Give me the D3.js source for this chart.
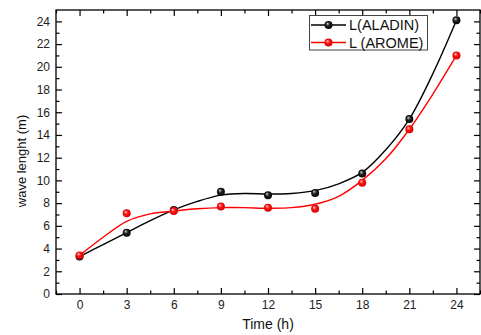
<!DOCTYPE html>
<html>
<head>
<meta charset="utf-8">
<script src="https://cdn.jsdelivr.net/npm/d3@7"></script>
<style>
  body { margin: 0; background: #fff; overflow: hidden; }
  svg { display: block; font-family: "Liberation Sans", Arial, sans-serif; }
</style>
</head>
<body>
<svg id="chart" width="481" height="335"></svg>
<script>
// measured points
const hours = [0, 3, 6, 9, 12, 15, 18, 21, 24];
const aladin = [3.3, 5.4, 7.4, 9.0, 8.7, 8.9, 10.6, 15.4, 24.1];
const arome = [3.4, 7.1, 7.3, 7.7, 7.6, 7.5, 9.8, 14.5, 21.0];

// fitted curves, every 1.5 h
const fitHours = [0, 1.5, 3, 4.5, 6, 7.5, 9, 10.5, 12, 13.5, 15, 16.5, 18, 19.5, 21, 22.5, 24];
const aladinFit = [3.3, 4.35, 5.4, 6.45, 7.4, 8.15, 8.7, 8.85, 8.8, 8.85, 9.1, 9.7, 10.7, 12.7, 15.4, 19.4, 24.1];
const aromeFit = [3.4, 5.0, 6.4, 7.05, 7.3, 7.5, 7.6, 7.6, 7.55, 7.6, 7.9, 8.6, 10.0, 11.9, 14.5, 17.6, 21.0];

const xTicks = [0, 3, 6, 9, 12, 15, 18, 21, 24];
const yTicks = [0, 2, 4, 6, 8, 10, 12, 14, 16, 18, 20, 22, 24];

const svg = d3.select('#chart');
const margin = { left: 56, top: 10, right: 1, bottom: 41 };
const innerWidth = 481 - margin.left - margin.right;
const innerHeight = 335 - margin.top - margin.bottom;

const xScale = d3.scaleLinear().domain([-1.5, 25.5]).range([0, innerWidth]);
const yScale = d3.scaleLinear().domain([0, 25]).range([innerHeight, 0]);

// marker gradients (shaded balls)
const defs = svg.append('defs');
function ball(id, hi, mid, lo) {
    const gr = defs.append('radialGradient').attr('id', id)
        .attr('cx', '50%').attr('cy', '50%').attr('r', '55%')
        .attr('fx', '35%').attr('fy', '30%');
    gr.append('stop').attr('offset', '0%').attr('stop-color', hi);
    gr.append('stop').attr('offset', '45%').attr('stop-color', mid);
    gr.append('stop').attr('offset', '100%').attr('stop-color', lo);
}
ball('ballBlack', '#d0d0d0', '#202020', '#000000');
ball('ballRed', '#ffd0d0', '#ff1010', '#d00000');

const g = svg.append('g').attr('transform', `translate(${margin.left}, ${margin.top})`);

const minorX = d3.range(-1.5, 25.6, 1.5).filter(v => v % 3 !== 0);
const minorY = d3.range(1, 25, 2);

// axes with inward ticks; unlabeled ones lose their text nodes
function styleAxis(sel, labeled) {
    sel.select('.domain').remove();
    sel.selectAll('.tick line').attr('stroke', '#000').attr('stroke-width', 1.2);
    if (labeled) {
        sel.selectAll('.tick text').attr('fill', '#222').attr('font-size', '12px');
    } else {
        sel.selectAll('.tick text').remove();
    }
}

g.append('g').attr('transform', `translate(0, ${innerHeight})`)
    .call(d3.axisBottom(xScale).tickValues(xTicks).tickSize(-6).tickPadding(6))
    .call(styleAxis, true);
g.append('g').attr('transform', `translate(0, ${innerHeight})`)
    .call(d3.axisBottom(xScale).tickValues(minorX).tickSize(-3.5))
    .call(styleAxis, false);
g.append('g')
    .call(d3.axisTop(xScale).tickValues(xTicks).tickSize(-6))
    .call(styleAxis, false);
g.append('g')
    .call(d3.axisTop(xScale).tickValues(minorX).tickSize(-3.5))
    .call(styleAxis, false);

g.append('g')
    .call(d3.axisLeft(yScale).tickValues(yTicks).tickSize(-6).tickPadding(6))
    .call(styleAxis, true);
g.append('g')
    .call(d3.axisLeft(yScale).tickValues(minorY).tickSize(-3.5))
    .call(styleAxis, false);
g.append('g').attr('transform', `translate(${innerWidth}, 0)`)
    .call(d3.axisRight(yScale).tickValues(yTicks).tickSize(-6))
    .call(styleAxis, false);
g.append('g').attr('transform', `translate(${innerWidth}, 0)`)
    .call(d3.axisRight(yScale).tickValues(minorY).tickSize(-3.5))
    .call(styleAxis, false);

// frame
g.append('rect')
    .attr('width', innerWidth).attr('height', innerHeight)
    .attr('fill', 'none').attr('stroke', '#000').attr('stroke-width', 1.3);

// fit curves
const line = d3.line().curve(d3.curveCatmullRom)
    .x(d => xScale(d[0])).y(d => yScale(d[1]));

const series = [
    { name: 'L(ALADIN)', pts: aladin, fit: aladinFit, color: '#000', ballId: 'ballBlack' },
    { name: 'L (AROME)', pts: arome, fit: aromeFit, color: '#ff0000', ballId: 'ballRed' }
];

series.forEach(s => {
    g.append('path')
        .attr('d', line(fitHours.map((h, i) => [h, s.fit[i]])))
        .attr('fill', 'none').attr('stroke', s.color).attr('stroke-width', 1.4);
});
series.forEach(s => {
    g.selectAll(null).data(s.pts).enter().append('circle')
        .attr('cx', (d, i) => xScale(hours[i]))
        .attr('cy', d => yScale(d))
        .attr('r', 4)
        .attr('fill', `url(#${s.ballId})`);
});

// legend
const lg = svg.append('g');
lg.append('rect').attr('x', 309.5).attr('y', 15.5).attr('width', 118).attr('height', 34.5)
    .attr('fill', '#fff').attr('stroke', '#444').attr('stroke-width', 1);
series.forEach((s, i) => {
    const y = 25 + i * 17.5;
    lg.append('line').attr('x1', 311).attr('x2', 346).attr('y1', y).attr('y2', y)
        .attr('stroke', s.color).attr('stroke-width', 1.4);
    lg.append('circle').attr('cx', 328.5).attr('cy', y).attr('r', 4)
        .attr('fill', `url(#${s.ballId})`);
    lg.append('text').attr('x', 349).attr('y', y + 5.2)
        .attr('font-size', '14.5px').attr('fill', '#111').text(s.name);
});

// axis titles
svg.append('text')
    .attr('x', margin.left + innerWidth / 2).attr('y', 329)
    .attr('text-anchor', 'middle').attr('font-size', '14px').attr('fill', '#111')
    .text('Time (h)');
svg.append('text')
    .attr('transform', 'translate(26, 161) rotate(-90)')
    .attr('text-anchor', 'middle').attr('font-size', '13px').attr('fill', '#111')
    .text('wave lenght (m)');
</script>
</body>
</html>
